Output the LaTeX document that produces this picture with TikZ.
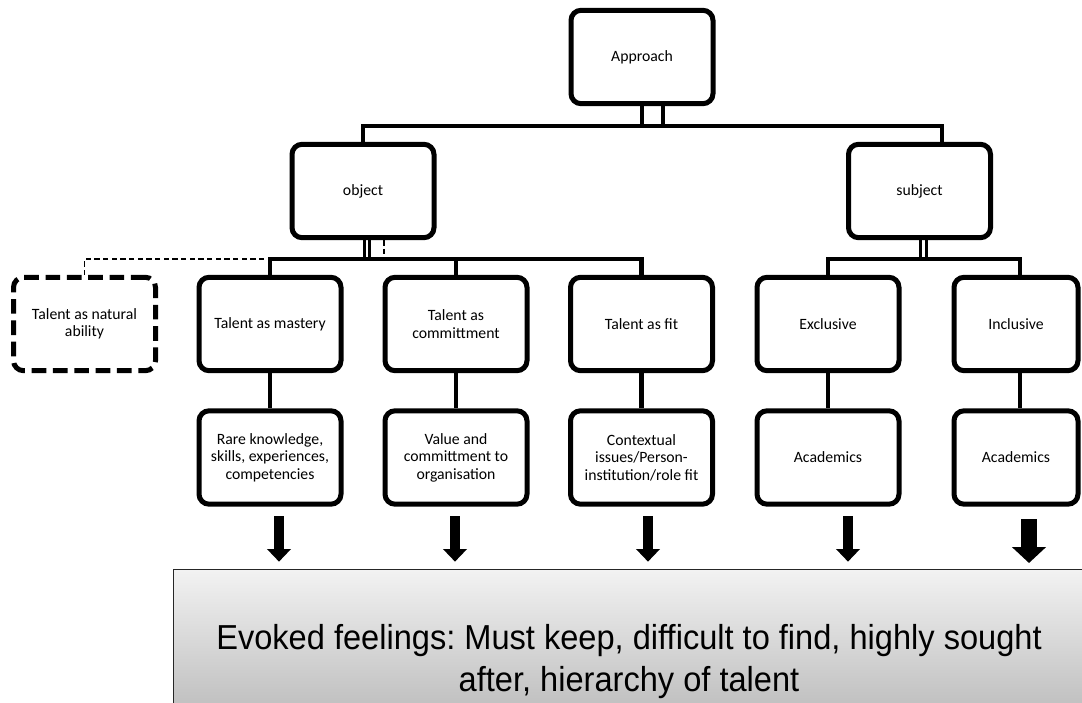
\documentclass[tikz,border=0pt]{standalone}
\usepackage{fontspec}
\setmainfont{Carlito}
\newfontfamily\narrowfont{Liberation Sans}[FakeStretch=0.94]
\usepackage{xcolor}
\usetikzlibrary{positioning, arrows.meta, calc}
\frenchspacing
\definecolor{FeelTop}{RGB}{242,242,242}
\definecolor{FeelBot}{RGB}{186,186,186}
\tikzset{
  lbox/.style={draw=black, line width=3.75pt, rounded corners=7.5pt, fill=white,
    minimum width=106.5pt, minimum height=70pt, inner sep=2pt, align=center,
    font=\fontsize{11.8}{13.2}\selectfont},
  dashbox/.style={lbox, dash pattern=on 11pt off 5pt},
  conn/.style={line width=3.5pt, black},
  twin/.style={line width=2.4pt, black},
  dashconn/.style={line width=1.1pt, black, dash pattern=on 4pt off 2.5pt},
  feelbox/.style={draw=black!85, line width=1.1pt, top color=FeelTop, bottom color=FeelBot,
    anchor=north west, minimum width=700pt, minimum height=115pt},
  feeltxt/.style={font=\narrowfont\fontsize{26}{31.5}\selectfont, align=center},
  downarr/.style={line width=7.5pt, -{Triangle[width=17.5pt, length=9.5pt]}, shorten >=5.5pt},
  downarrbig/.style={line width=12.5pt, -{Triangle[width=25pt, length=12pt]}, shorten >=4.5pt},
}

\begin{document}
\begin{tikzpicture}[x=0.75pt, y=-0.75pt]
  \useasboundingbox (0,0) rectangle (1082,703);

  \node[lbox] (app) at (642,57) {Approach};
  \node[lbox] (obj) at (363,191) {object};
  \node[lbox] (sub) at (919.5,191) {subject};

  \node[dashbox] (nat) at (84.5,324) {Talent as natural\\ ability};
  \node[lbox] (mas) at (270,324) {Talent as mastery};
  \node[lbox] (com) at (456,324) {Talent as\\ committment};
  \node[lbox] (fit) at (641.5,324) {Talent as fit};
  \node[lbox] (exc) at (828,324) {Exclusive};
  \node[lbox, minimum width=93pt] (inc) at (1016,324) {Inclusive};

  \node[lbox] (rare) at (270,457.5) {Rare knowledge,\\ skills, experiences,\\ competencies};
  \node[lbox] (val) at (456,457.5) {Value and\\ committment to\\ organisation};
  \node[lbox] (ctx) at (641.5,457.5) {Contextual\\ issues/Person-\\ institution/role fit};
  \node[lbox] (acd1) at (828,457.5) {Academics};
  \node[lbox, minimum width=93pt] (acd2) at (1016,457.5) {Academics};

  \node[feelbox] (feel) at (173,569) {};
  \node[feeltxt] (feeltext) at (629,662) {Evoked feelings: Must keep, difficult to find, highly sought\\ after, hierarchy of talent};

  % top level
  \coordinate (busA) at (0,126);
  \draw[conn] (app.south) -- (app.south |- busA);
  \draw[conn] ($(app.south)+(21,0)$) -- ($(app.south |- busA)+(21,0)$);
  \draw[conn] (obj.north) -- (obj.north |- busA) -- ($(sub.north |- busA)+(22.5,0)$) -- ($(sub.north)+(22.5,0)$);

  % object branch
  \coordinate (busB) at (0,259);
  \draw[twin] ($(obj.south)+(1.5,0)$) -- ($(obj.south |- busB)+(1.5,0)$);
  \draw[twin] ($(obj.south)+(6.5,0)$) -- ($(obj.south |- busB)+(6.5,0)$);
  \draw[dashconn] ($(obj.south)+(21,0)$) |- (nat.north |- busB) -- (nat.north);
  \draw[conn] (mas.north) |- (fit.north |- busB) -- (fit.north);
  \draw[conn] (com.north) -- (com.north |- busB);

  % subject branch
  \draw[twin] ($(sub.south)+(1,0)$) -- ($(sub.south |- busB)+(1,0)$);
  \draw[twin] ($(sub.south)+(7,0)$) -- ($(sub.south |- busB)+(7,0)$);
  \draw[conn] (exc.north) |- ($(inc.north |- busB)+(4,0)$) -- ($(inc.north)+(4,0)$);

  \foreach \a/\b in {mas/rare, com/val, fit/ctx, exc/acd1}
    \draw[conn] (\a.south) -- (\b.north);
  \draw[conn] ($(inc.south)+(4,0)$) -- ($(acd2.north)+(4,0)$);

  % arrows into the feelings box
  \coordinate (t1) at (279,516);
  \coordinate (t2) at (455,516);
  \coordinate (t3) at (648,516);
  \coordinate (t4) at (848,516);
  \coordinate (t5) at (1029,519);
  \foreach \t in {t1,t2,t3,t4}
    \draw[downarr] (\t) -- (\t |- feel.north);
  \draw[downarrbig] (t5) -- (t5 |- feel.north);
\end{tikzpicture}
\end{document}
